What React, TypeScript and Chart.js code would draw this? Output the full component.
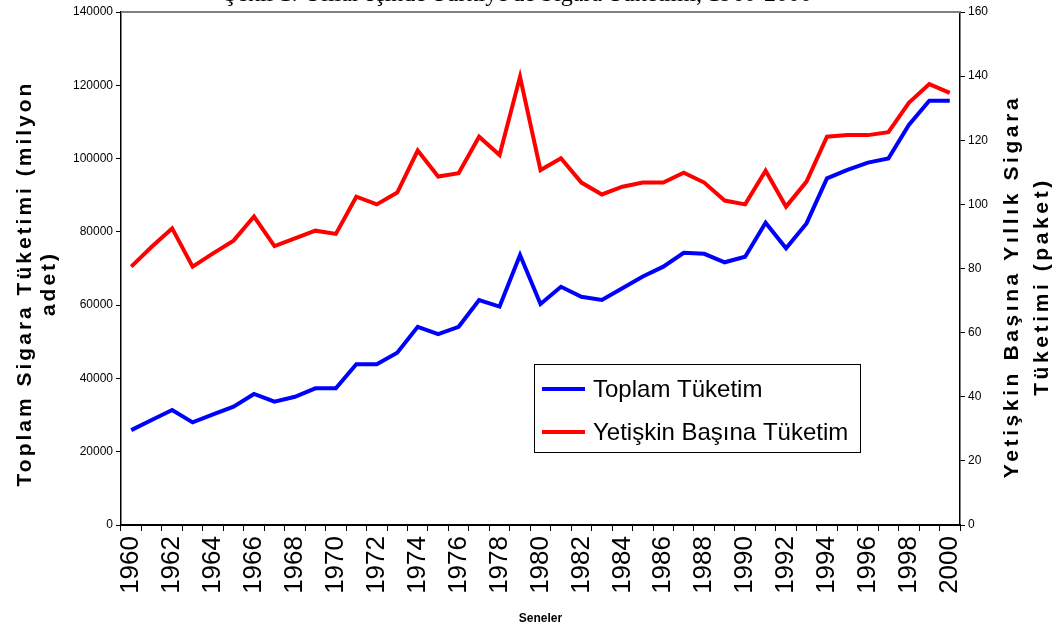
import React, { useEffect, useRef } from 'react';
import { Chart, registerables } from 'chart.js';

Chart.register(...registerables);

const years = [
  '1960', '1961', '1962', '1963', '1964', '1965', '1966', '1967', '1968', '1969',
  '1970', '1971', '1972', '1973', '1974', '1975', '1976', '1977', '1978', '1979',
  '1980', '1981', '1982', '1983', '1984', '1985', '1986', '1987', '1988', '1989',
  '1990', '1991', '1992', '1993', '1994', '1995', '1996', '1997', '1998', '1999',
  '2000',
];

// Toplam Tüketim (milyon adet) - left axis
const toplam = [
  25900, 28650, 31400, 28000, 30200, 32300, 35750, 33650, 35000, 37300,
  37300, 43900, 43900, 47000, 54100, 52100, 54100, 61400, 59600, 73700,
  60300, 65000, 62300, 61400, 64600, 67800, 70500, 74300, 74000, 71700,
  73200, 82500, 75500, 82300, 94600, 96900, 98900, 100000, 109200, 115800,
  115800,
];

// Yetişkin Başına Tüketim (paket) - right axis
const yetiskin = [
  80.6, 86.8, 92.5, 80.6, 84.7, 88.7, 96.2, 87.0, 89.4, 91.8,
  90.8, 102.4, 100.0, 103.7, 116.8, 108.7, 109.7, 121.1, 115.4, 139.8,
  110.7, 114.4, 106.8, 103.1, 105.5, 106.8, 106.8, 109.9, 106.8, 101.2,
  100.0, 110.5, 99.3, 107.1, 121.1, 121.6, 121.6, 122.5, 131.7, 137.5,
  134.8,
];

const seriesNames = ['Toplam Tüketim', 'Yetişkin Başına Tüketim'];
const seriesColors = ['#0000FF', '#FF0000'];
const chartTitle = "Şekil 1: Yıllar İçinde Türkiye'de Sigara Tüketimi, 1960-2000";
const leftTitle = ['Toplam Sigara Tüketimi (milyon', 'adet)'];
const rightTitle = ['Yetişkin Başına Yıllık Sigara', 'Tüketimi (paket)'];
const xTitle = 'Seneler';

const decorPlugin = {
  id: 'decor',
  afterDraw(chart: any) {
    const ctx = chart.ctx as CanvasRenderingContext2D;
    const area = chart.chartArea;
    ctx.save();
    // top border of plot area
    ctx.strokeStyle = '#808080';
    ctx.lineWidth = 2;
    ctx.beginPath();
    ctx.moveTo(area.left, area.top);
    ctx.lineTo(area.right, area.top);
    ctx.stroke();

    // main title (mostly cut off at top)
    ctx.fillStyle = '#000';
    ctx.font = '24px "Liberation Serif", "Times New Roman", serif';
    ctx.textAlign = 'center';
    ctx.textBaseline = 'alphabetic';
    ctx.fillText(chartTitle, 518, 1);

    // axis titles
    const midY = (area.top + area.bottom) / 2 + 15;
    ctx.font = 'bold 21px Arial, "Liberation Sans", sans-serif';
    ctx.textBaseline = 'middle';
    ctx.textAlign = 'center';
    const drawRot = (text: string, x: number, y: number) => {
      ctx.save();
      ctx.translate(x, y);
      ctx.rotate(-Math.PI / 2);
      ctx.fillText(text, 0, 0);
      ctx.restore();
    };
    (ctx as any).letterSpacing = '3px';
    drawRot(leftTitle[0], 25, midY);
    drawRot(leftTitle[1], 49, midY);
    (ctx as any).letterSpacing = '3.6px';
    drawRot(rightTitle[0], 1012, midY + 3);
    drawRot(rightTitle[1], 1042, midY + 3);
    (ctx as any).letterSpacing = '0px';

    ctx.font = 'bold 12px Arial, "Liberation Sans", sans-serif';
    ctx.textBaseline = 'middle';
    ctx.fillText(xTitle, (area.left + area.right) / 2, 619);

    // legend
    const lx = 534, ly = 364, lw = 326, lh = 88;
    ctx.fillStyle = '#fff';
    ctx.fillRect(lx, ly, lw, lh);
    ctx.strokeStyle = '#000';
    ctx.lineWidth = 1;
    ctx.strokeRect(lx + 0.5, ly + 0.5, lw, lh);
    ctx.font = '24px Arial, "Liberation Sans", sans-serif';
    ctx.textAlign = 'left';
    ctx.textBaseline = 'middle';
    const rows = [389, 432];
    seriesNames.forEach((name, i) => {
      ctx.strokeStyle = seriesColors[i];
      ctx.lineWidth = 4;
      ctx.beginPath();
      ctx.moveTo(542, rows[i]);
      ctx.lineTo(585, rows[i]);
      ctx.stroke();
      ctx.fillStyle = '#000';
      ctx.fillText(name, 593, rows[i] + 1);
    });
    ctx.restore();
  },
};

export default function App() {
  const ref = useRef<HTMLCanvasElement | null>(null);
  useEffect(() => {
    if (!ref.current) return;
    const chart = new Chart(ref.current, {
      type: 'line',
      data: {
        labels: years,
        datasets: [
          {
            label: seriesNames[0],
            data: toplam,
            borderColor: seriesColors[0],
            backgroundColor: seriesColors[0],
            borderWidth: 4,
            pointRadius: 0,
            tension: 0,
            yAxisID: 'y',
          },
          {
            label: seriesNames[1],
            data: yetiskin,
            borderColor: seriesColors[1],
            backgroundColor: seriesColors[1],
            borderWidth: 4,
            pointRadius: 0,
            tension: 0,
            yAxisID: 'y1',
          },
        ],
      },
      options: {
        responsive: false,
        animation: false,
        events: [],
        layout: { padding: { top: 12, left: 0, right: 0, bottom: 0 } },
        plugins: {
          legend: { display: false },
          tooltip: { enabled: false },
          title: { display: false },
        },
        scales: {
          x: {
            type: 'category',
            offset: true,
            grid: {
              display: true,
              offset: true,
              drawOnChartArea: false,
              drawTicks: true,
              tickLength: 6,
              color: '#000',
              lineWidth: 1,
            },
            border: { display: true, color: '#000', width: 2 },
            ticks: {
              autoSkip: false,
              maxRotation: 90,
              minRotation: 90,
              padding: 5,
              color: '#000',
              font: { family: 'Arial, "Liberation Sans", sans-serif', size: 26 },
              callback: (_v: any, i: number) => (i % 2 === 0 ? years[i] : ''),
            },
            afterFit: (s: any) => {
              s.height = 110;
            },
          },
          y: {
            type: 'linear',
            position: 'left',
            min: 0,
            max: 140000,
            grid: {
              display: true,
              drawOnChartArea: false,
              drawTicks: true,
              tickLength: 5,
              color: '#000',
            },
            border: { display: true, color: '#000', width: 1.5 },
            ticks: {
              stepSize: 20000,
              padding: 3,
              color: '#000',
              font: { family: 'Arial, "Liberation Sans", sans-serif', size: 12 },
              callback: (v: any) => String(v),
            },
            afterFit: (s: any) => {
              s.width = 121;
            },
          },
          y1: {
            type: 'linear',
            position: 'right',
            min: 0,
            max: 160,
            grid: {
              display: true,
              drawOnChartArea: false,
              drawTicks: true,
              tickLength: 5,
              color: '#000',
            },
            border: { display: true, color: '#000', width: 1.5 },
            ticks: {
              stepSize: 20,
              padding: 3,
              color: '#000',
              font: { family: 'Arial, "Liberation Sans", sans-serif', size: 12 },
              callback: (v: any) => String(v),
            },
            afterFit: (s: any) => {
              s.width = 101;
            },
          },
        },
      },
      plugins: [decorPlugin],
    });
    return () => chart.destroy();
  }, []);

  return (
    <div style={{ position: 'fixed', left: 0, top: 0, width: 1061, height: 635, background: '#fff' }}>
      <canvas ref={ref} width={1061} height={635} style={{ display: 'block' }} />
    </div>
  );
}
